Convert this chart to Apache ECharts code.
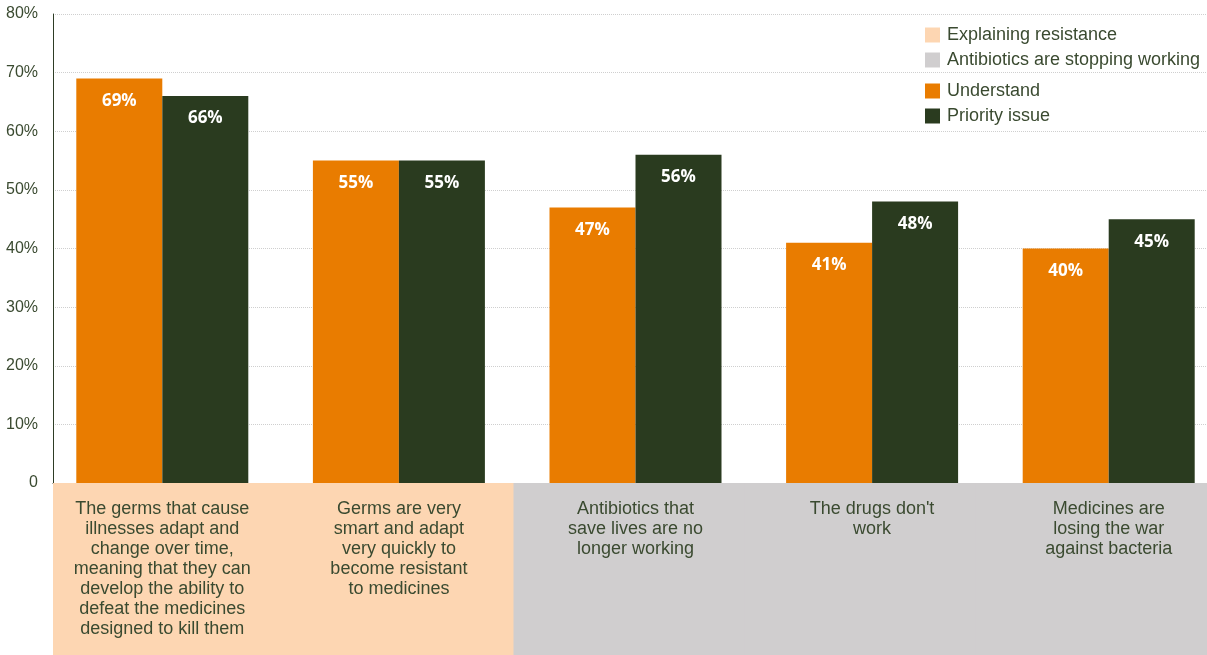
<!DOCTYPE html>
<html>
<head>
<meta charset="utf-8">
<script src="https://cdn.jsdelivr.net/npm/echarts@6/dist/echarts.min.js"></script>
<style>
	html, body { margin: 0; padding: 0; background: #fff; overflow: hidden; }
	/* a bit wider than the window: the last bar band runs past the right edge */
	#chart { width: 1227px; height: 655px; }
</style>
</head>
<body>
<div id="chart"></div>
<script>
// data
var categories = [
	'The germs that cause\nillnesses adapt and\nchange over time,\nmeaning that they can\ndevelop the ability to\ndefeat the medicines\ndesigned to kill them',
	'Germs are very\nsmart and adapt\nvery quickly to\nbecome resistant\nto medicines',
	'Antibiotics that\nsave lives are no\nlonger working',
	"The drugs don't\nwork",
	'Medicines are\nlosing the war\nagainst bacteria'
];
var understand = [69, 55, 47, 41, 40];
var priority = [66, 55, 56, 48, 45];
// which framing each statement belongs to (background band under the axis)
var explaining = [1, 1, '-', '-', '-'];
var stopping = ['-', '-', 1, 1, 1];

;(function(){
	var chart = echarts.init(document.getElementById('chart'));
	var txt = '#3a4a30',
		font = '"Liberation Sans", Arial, Helvetica, sans-serif';

	var barLabel = {
		show: true,
		position: 'insideTop',
		distance: 14,
		color: '#fff',
		fontSize: 17,
		fontWeight: 'bold',
		fontFamily: '"Open Sans", Arial, sans-serif',
		formatter: '{c}%'
	};

	var legendBase = {
		orient: 'vertical',
		left: 925,
		itemWidth: 15,
		itemHeight: 15,
		itemGap: 7,
		icon: 'rect',
		padding: 0,
		textStyle: { color: txt, fontSize: 18, padding: [0, 0, 0, 2] }
	};

	var option = {
		animation: false,
		textStyle: { fontFamily: font },
		legend: [
			echarts.util.merge({ top: 26, data: ['Explaining resistance', 'Antibiotics are stopping working'] }, legendBase),
			echarts.util.merge({ top: 82, data: ['Understand', 'Priority issue'] }, legendBase)
		],
		grid: [
			// axes + gridlines
			{ left: 53, right: 20, top: 14, bottom: 172 },
			// bars
			{ left: 44, right: 0, top: 14, bottom: 172 },
			// coloured bands under the axis
			{ left: 53, right: 20, top: 483, bottom: 0 }
		],
		xAxis: [
			{
				gridIndex: 0,
				type: 'category',
				data: categories,
				axisLine: { lineStyle: { color: '#2e3d25', width: 1 } },
				axisTick: { show: false },
				axisLabel: { show: false }
			},
			{
				gridIndex: 1,
				type: 'category',
				data: categories,
				axisLine: { show: false },
				axisTick: { show: false },
				axisLabel: {
					interval: 0,
					margin: 16,
					color: txt,
					fontSize: 18,
					lineHeight: 20,
					align: 'center'
				},
				z: 10
			},
			{
				gridIndex: 2,
				type: 'category',
				data: categories,
				show: false
			}
		],
		yAxis: [
			{
				gridIndex: 0,
				type: 'value',
				min: 0,
				max: 80,
				interval: 10,
				axisLine: { show: true, lineStyle: { color: '#2e3d25', width: 1 } },
				axisTick: { show: false },
				axisLabel: {
					margin: 15,
					color: txt,
					fontSize: 16,
					padding: [0, 0, 8, 0],
					formatter: function (v) { return v === 0 ? '0' : v + '%'; }
				},
				splitLine: { lineStyle: { color: '#cfcfcf', type: [1, 1], width: 1 } }
			},
			{ gridIndex: 1, type: 'value', min: 0, max: 80, show: false },
			{ gridIndex: 2, type: 'value', min: 0, max: 1, show: false }
		],
		series: [
			// bands overlap a little so no hairline shows between cells
			{
				name: 'Explaining resistance',
				type: 'bar',
				xAxisIndex: 2,
				yAxisIndex: 2,
				stack: 'band',
				barWidth: 233,
				silent: true,
				itemStyle: { color: '#fdd6b2' },
				data: explaining,
				z: 0
			},
			{
				name: 'Antibiotics are stopping working',
				type: 'bar',
				xAxisIndex: 2,
				yAxisIndex: 2,
				stack: 'band',
				barWidth: 233,
				silent: true,
				itemStyle: { color: '#d0cecf' },
				data: stopping,
				z: 0
			},
			{
				name: 'Understand',
				type: 'bar',
				xAxisIndex: 1,
				yAxisIndex: 1,
				barWidth: 86,
				barGap: 0,
				itemStyle: { color: '#e97c00' },
				label: barLabel,
				data: understand
			},
			{
				name: 'Priority issue',
				type: 'bar',
				xAxisIndex: 1,
				yAxisIndex: 1,
				barWidth: 86,
				barGap: 0,
				itemStyle: { color: '#2a3b1f' },
				label: barLabel,
				data: priority
			}
		]
	};
	chart.setOption(option);
}());
</script>
</body>
</html>
